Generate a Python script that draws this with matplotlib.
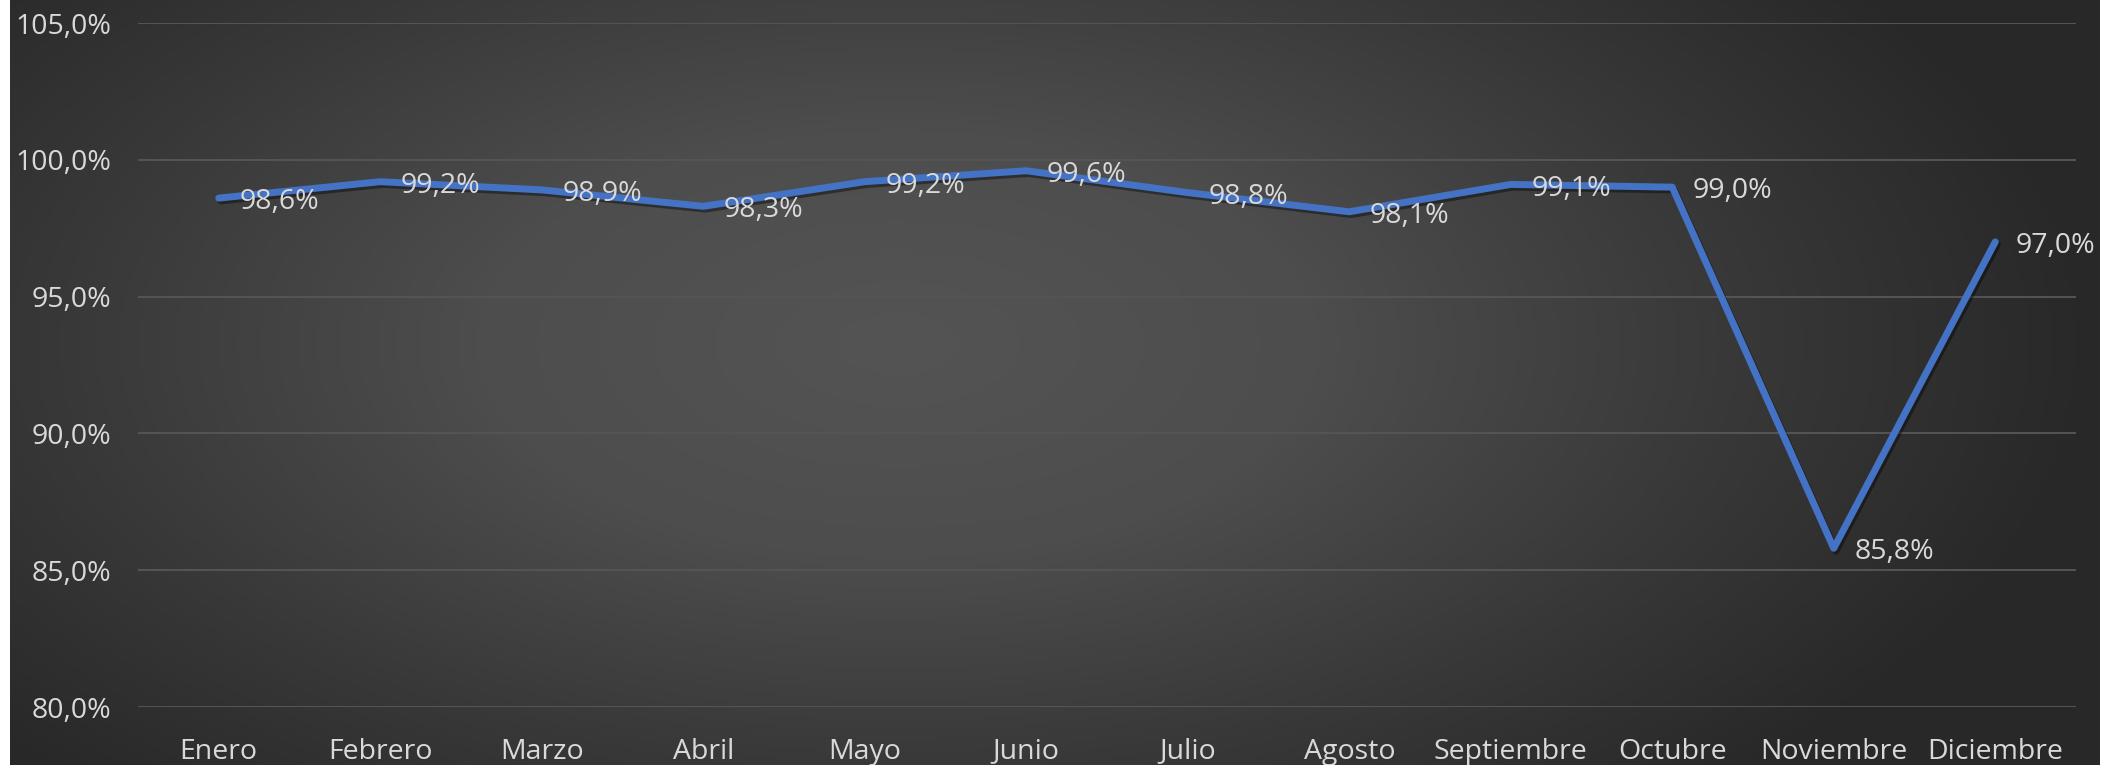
import numpy as np
import matplotlib
matplotlib.use("Agg")
import matplotlib.pyplot as plt
import matplotlib.patheffects as pe
from matplotlib.colors import LinearSegmentedColormap

# datos
meses = ["Enero", "Febrero", "Marzo", "Abril", "Mayo", "Junio", "Julio",
         "Agosto", "Septiembre", "Octubre", "Noviembre", "Diciembre"]
valores = [98.6, 99.2, 98.9, 98.3, 99.2, 99.6, 98.8, 98.1, 99.1, 99.0, 85.8, 97.0]
yticks = [80, 85, 90, 95, 100, 105]

W, H = 2112, 765
fig = plt.figure(figsize=(W / 100, H / 100), dpi=100, facecolor="white")
plt.rcParams["font.family"] = ["Open Sans", "DejaVu Sans"]

# fondo con degradado radial (estilo Excel oscuro)
bg = fig.add_axes([10 / W, 0, (2100 - 10) / W, 1])
gx, gy = np.meshgrid(np.linspace(-1, 1, 600), np.linspace(-1, 1, 220))
r = np.sqrt(((gx + 0.15) / 1.15) ** 2 + ((gy + 0.1) / 1.6) ** 2)
r = np.clip(r, 0, 1)
cmap = LinearSegmentedColormap.from_list(
    "bg", [(0, "#545454"), (0.35, "#4d4d4d"), (0.7, "#383838"), (1, "#282828")])
bg.imshow(r, cmap=cmap, aspect="auto", extent=[0, 1, 0, 1], vmin=0, vmax=1)
bg.set_axis_off()

ax = fig.add_axes([138 / W, 1 - 707 / H, (2076 - 138) / W, (707 - 23) / H])
ax.patch.set_alpha(0)

x = np.arange(len(meses))
ax.plot(x, valores, color="#4472C4", lw=5, solid_capstyle="round", zorder=3,
        path_effects=[pe.SimpleLineShadow(offset=(1.5, -2), alpha=0.4, shadow_color="black"),
                      pe.Normal()])

txt = "#d9d9d9"
for xi, v in zip(x, valores):
    ax.annotate(f"{v:.1f}%".replace(".", ","), (xi, v), xytext=(15, -3),
                textcoords="offset points", ha="left", va="center",
                color=txt, fontsize=20.5, zorder=4)

ax.set_xlim(-0.5, len(meses) - 0.5)
ax.set_ylim(80, 105)
ax.set_yticks(yticks)
ax.set_yticklabels([f"{t:.1f}%".replace(".", ",") for t in yticks])
ax.set_xticks(x)
ax.set_xticklabels(meses)
ax.tick_params(axis="both", length=0, colors=txt, labelsize=20.5)
ax.tick_params(axis="y", pad=19)
ax.tick_params(axis="x", pad=22)
ax.grid(axis="y", color="#555555", lw=1.4)
ax.set_axisbelow(True)
for s in ax.spines.values():
    s.set_visible(False)

fig.savefig("out.png", dpi=100, facecolor="white")
